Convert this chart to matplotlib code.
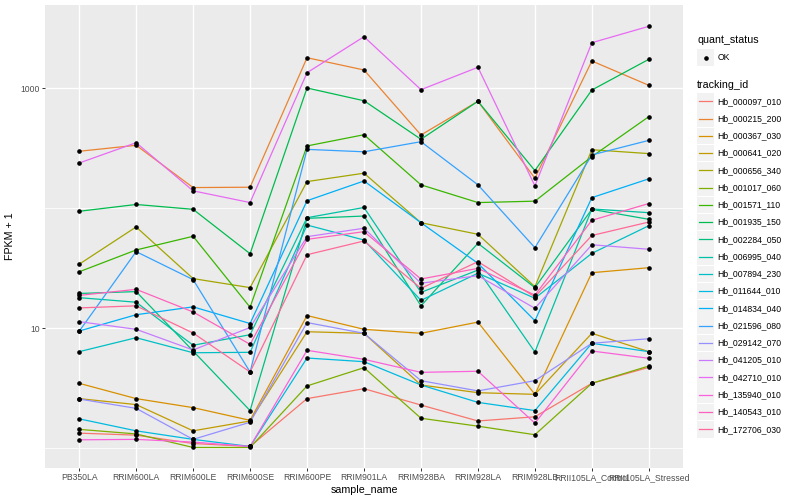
import numpy as np
import matplotlib
matplotlib.use("Agg")
import matplotlib.pyplot as plt
from matplotlib.ticker import FixedLocator, NullFormatter, FixedFormatter
from matplotlib.patches import Rectangle

plt.rcParams['font.family'] = ['Liberation Sans', 'DejaVu Sans']

samples = ["PB350LA", "RRIM600LA", "RRIM600LE", "RRIM600SE", "RRIM600PE",
           "RRIM901LA", "RRIM928BA", "RRIM928LA", "RRIM928LB",
           "RRII105LA_Control", "RRII105LA_Stressed"]

tracking_ids = ["Hb_000097_010", "Hb_000215_200", "Hb_000367_030", "Hb_000641_020",
                "Hb_000656_340", "Hb_001017_060", "Hb_001571_110", "Hb_001935_150",
                "Hb_002284_050", "Hb_006995_040", "Hb_007894_230", "Hb_011644_010",
                "Hb_014834_040", "Hb_021596_080", "Hb_029142_070", "Hb_041205_010",
                "Hb_042710_010", "Hb_135940_010", "Hb_140543_010", "Hb_172706_030"]

# FPKM + 1 values per gene, in sample order
hb_000097_010 = [1.33, 1.28, 1.09, 1.03, 2.58, 3.12, 2.28, 1.68, 1.82, 3.46, 4.70]
hb_000215_200 = [297, 333, 148, 149, 1788, 1413, 406, 775, 177, 1679, 1053]
hb_000367_030 = [3.46, 2.58, 2.17, 1.70, 12.7, 9.75, 9.03, 11.2, 2.80, 28.9, 31.8]
hb_000641_020 = [2.58, 2.30, 1.39, 1.68, 9.31, 9.03, 3.35, 2.89, 2.80, 9.03, 6.35]
hb_000656_340 = [34.0, 69.5, 25.8, 21.7, 166, 195, 75.4, 60.4, 22.1, 306, 284]
hb_001017_060 = [1.43, 1.31, 1.01, 1.01, 3.29, 4.67, 1.77, 1.52, 1.29, 3.46, 4.82]
hb_001571_110 = [29.4, 44.7, 58.1, 14.9, 329, 408, 156, 111, 114, 268, 577]
hb_001935_150 = [93.9, 107, 97.5, 41.6, 1000, 783, 374, 775, 205, 962, 1734]
hb_002284_050 = [19.4, 20.1, 6.43, 2.05, 82.0, 85.7, 15.3, 50.8, 21.7, 97.5, 80.5]
hb_006995_040 = [17.9, 16.4, 7.18, 8.79, 83.0, 101, 19.8, 30.4, 6.31, 98.2, 91.4]
hb_007894_230 = [6.35, 8.30, 6.22, 6.27, 72.1, 54.1, 17.0, 28.6, 17.7, 41.9, 71.2]
hb_011644_010 = [1.75, 1.39, 1.18, 1.03, 5.62, 5.24, 3.35, 2.40, 2.05, 7.46, 6.35]
hb_014834_040 = [9.44, 12.9, 15.0, 10.9, 115, 168, 75.4, 34.6, 11.5, 122, 175]
hb_021596_080 = [9.39, 43.3, 25.3, 4.30, 308, 294, 357, 156, 46.7, 277, 366]
hb_029142_070 = [2.56, 2.14, 1.18, 1.64, 11.1, 9.03, 3.64, 2.99, 3.64, 7.46, 8.14]
hb_041205_010 = [11.3, 9.75, 6.56, 10.1, 57.7, 67.8, 23.6, 27.3, 14.6, 49.4, 45.3]
hb_042710_010 = [237, 350, 139, 111, 1341, 2676, 968, 1488, 153, 2385, 3266]
hb_135940_010 = [1.17, 1.18, 1.12, 1.03, 6.52, 5.48, 4.27, 4.36, 1.61, 6.43, 5.59]
hb_140543_010 = [18.7, 21.0, 13.6, 7.31, 54.8, 63.5, 25.6, 31.4, 18.8, 79.0, 109]
hb_172706_030 = [14.7, 15.3, 9.08, 4.30, 40.8, 53.1, 21.4, 35.7, 18.2, 59.0, 76.4]

series = [hb_000097_010, hb_000215_200, hb_000367_030, hb_000641_020, hb_000656_340,
          hb_001017_060, hb_001571_110, hb_001935_150, hb_002284_050, hb_006995_040,
          hb_007894_230, hb_011644_010, hb_014834_040, hb_021596_080, hb_029142_070,
          hb_041205_010, hb_042710_010, hb_135940_010, hb_140543_010, hb_172706_030]

y_breaks = [10, 1000]
y_break_labels = ["10", "1000"]
y_minor = [1, 100]


def hcl_color(h, c=100.0, l=65.0):
    hr = np.deg2rad(h)
    u = c * np.cos(hr)
    v = c * np.sin(hr)
    Xn, Yn, Zn = 95.047, 100.0, 108.883
    Y = Yn * ((l + 16) / 116) ** 3
    den = Xn + 15 * Yn + 3 * Zn
    un, vn = 4 * Xn / den, 9 * Yn / den
    up = u / (13 * l) + un
    vp = v / (13 * l) + vn
    X = 9 * Y * up / (4 * vp)
    Z = 3 * Y / vp - X / 3 - 5 * Y
    x, y, z = X / 100, Y / 100, Z / 100
    rgb = np.array([3.240479 * x - 1.537150 * y - 0.498535 * z,
                    -0.969256 * x + 1.875992 * y + 0.041556 * z,
                    0.055648 * x - 0.204043 * y + 1.057311 * z])
    rgb = np.where(rgb <= 0.0031308, 12.92 * rgb, 1.055 * np.abs(rgb) ** (1 / 2.4) - 0.055)
    return tuple(np.clip(rgb, 0, 1))


n = len(tracking_ids)
hues = np.linspace(15, 375, n + 1)[:n]
colors = [hcl_color(h) for h in hues]

W, H = 800, 500
fig = plt.figure(figsize=(8, 5), dpi=100)
fig.patch.set_facecolor('white')

pl, pr, pt, pb = 45, 683, 5, 468
ax = fig.add_axes([pl / W, 1 - pb / H, (pr - pl) / W, (pb - pt) / H])
ax.set_facecolor('#EBEBEB')
ax.set_yscale('log')
ax.set_ylim(10 ** (-20 / 120), 10 ** (443 / 120))
ax.set_xlim(0.4, len(samples) + 0.6)
for s in ax.spines.values():
    s.set_visible(False)

xs = np.arange(1, len(samples) + 1)
ax.set_xticks(xs)
ax.set_xticklabels(samples, fontsize=6.2, color='#4D4D4D')
ax.yaxis.set_major_locator(FixedLocator(y_breaks))
ax.yaxis.set_major_formatter(FixedFormatter(y_break_labels))
ax.yaxis.set_minor_locator(FixedLocator(y_minor))
ax.yaxis.set_minor_formatter(NullFormatter())
ax.tick_params(axis='both', which='major', length=2.2, width=0.7, color='#333333',
               labelsize=6.2, labelcolor='#4D4D4D', pad=1.5)
ax.tick_params(axis='y', which='minor', length=0)
ax.grid(True, which='major', axis='both', color='white', lw=1.0)
ax.grid(True, which='minor', axis='y', color='white', lw=0.6)
ax.set_axisbelow(True)

for vals, col in zip(series, colors):
    ax.plot(xs, vals, color=col, lw=0.9, zorder=2, solid_capstyle='butt')
for vals in series:
    ax.plot(xs, vals, linestyle='none', marker='o', ms=2.3, color='black', zorder=3)

ax.set_xlabel('sample_name', fontsize=7.7, labelpad=2)
ax.set_ylabel('FPKM + 1', fontsize=7.7, labelpad=4)

# legend drawn in pixel coordinates
lax = fig.add_axes([0, 0, 1, 1], zorder=5)
lax.set_xlim(0, W)
lax.set_ylim(H, 0)
lax.axis('off')

kx, kw = 697, 17
lax.text(kx, 40, 'quant_status', fontsize=7.7, va='center', ha='left')
lax.add_patch(Rectangle((kx, 49), kw, kw, facecolor='#F2F2F2', edgecolor='none'))
lax.plot([kx + kw / 2], [57.5], marker='o', ms=2.3, color='black')
lax.text(718, 57.5, 'OK', fontsize=6.2, va='center', ha='left', color='black')

lax.text(kx, 84.5, 'tracking_id', fontsize=7.7, va='center', ha='left')
step = 17.26
for i, (name, col) in enumerate(zip(tracking_ids, colors)):
    yc = 101.3 + i * step
    lax.add_patch(Rectangle((kx, yc - 8.3), kw, 16.6, facecolor='#F2F2F2', edgecolor='none'))
    lax.plot([kx + 2, kx + kw - 2], [yc, yc], color=col, lw=0.9)
    lax.text(717, yc, name, fontsize=6.2, va='center', ha='left', color='black')

fig.savefig('out.png', dpi=100)
